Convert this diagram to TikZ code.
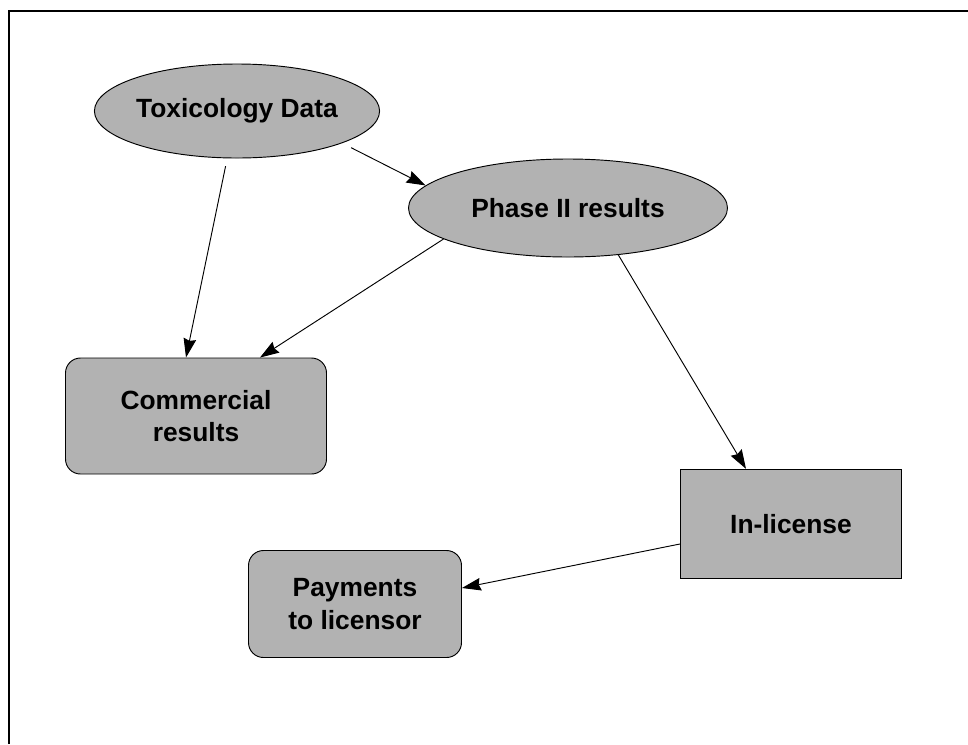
\documentclass[tikz,border=0pt]{standalone}
\usepackage{fontspec}
\setmainfont{Liberation Sans}
\usetikzlibrary{arrows.meta,%
                shapes.geometric,%
                calc}

\begin{document}
\begin{tikzpicture}[x=0.03cm,y=-0.03cm,
    font=\fontsize{22.5}{28}\selectfont\bfseries]
  \useasboundingbox (0,0) rectangle (968,744);
  \tikzstyle{Oval}=[ellipse,draw,line width=0.8pt,fill=black!30,inner sep=0pt]
  \tikzstyle{Card}=[rectangle,rounded corners=0.45cm,draw,line width=0.8pt,
                    fill=black!30,align=center,inner sep=0pt]
  \tikzstyle{Block}=[rectangle,draw,line width=1.1pt,fill=black!30,inner sep=0pt]
  \tikzstyle{EdgeStyle}=[draw,line width=0.8pt,
                         -{Stealth[length=0.57cm,width=0.38cm,inset=0.06cm]}]

  % frame
  \draw[line width=2pt] (9,744) -- (9,11) -- (968,11);

  \node[Oval,minimum width=7.86cm,minimum height=2.82cm] (tox) at (237,111) {Toxicology Data};
  \node[Oval,minimum width=9.57cm,minimum height=2.94cm] (ph) at (568,208) {Phase II results};
  \node[Card,minimum width=7.83cm,minimum height=3.48cm] (com) at (196,416) {Commercial\\results};
  \node[Block,minimum width=6.63cm,minimum height=3.27cm] (inl) at (791,524) {In-license};
  \node[Card,minimum width=6.39cm,minimum height=3.21cm] (pay) at (355,604) {Payments\\to licensor};

  \draw[EdgeStyle,shorten <=0.24cm] (tox) -- ($(com.north)+(-10,0)$);
  \draw[EdgeStyle,shorten <=0.3cm] (tox.-17) -- (ph.171);
  \draw[EdgeStyle] (ph.-166) -- ($(com.north)+(64,0)$);
  \draw[EdgeStyle] (ph.-43) -- ($(inl.north)+(-45,0)$);
  \draw[EdgeStyle] ($(inl.west)+(0,20)$) -- ($(pay.east)+(0,-16)$);

\end{tikzpicture}
\end{document}
